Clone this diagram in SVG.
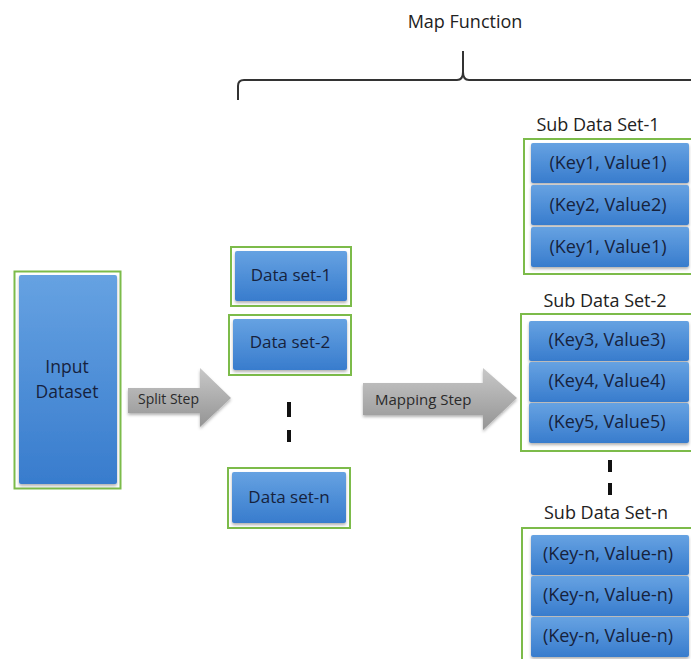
<svg xmlns="http://www.w3.org/2000/svg" width="691" height="659" viewBox="0 0 691 659">
<defs>
<linearGradient id="blue" x1="0" y1="0" x2="0" y2="1">
<stop offset="0" stop-color="#66a2e2"/>
<stop offset="1" stop-color="#387ccd"/>
</linearGradient>
<linearGradient id="gray" x1="0" y1="0" x2="0" y2="1">
<stop offset="0" stop-color="#c8c8c8"/>
<stop offset="1" stop-color="#949494"/>
</linearGradient>
<filter id="sh" x="-10%" y="-10%" width="120%" height="130%">
<feDropShadow dx="0" dy="2" stdDeviation="1.5" flood-color="#000" flood-opacity="0.3"/>
</filter>
</defs>
<style>
.g{fill:#fff;stroke:#7cbb4a;stroke-width:2}
.b{fill:url(#blue);filter:url(#sh)}
.t{font-family:"Open Sans","DejaVu Sans",sans-serif;fill:#16223d;text-anchor:middle;font-size:18px}
.ds{font-size:17px}
.h{font-family:"Open Sans","DejaVu Sans",sans-serif;fill:#222;text-anchor:middle;font-size:18px}
.a{fill:url(#gray);filter:url(#sh)}
.at{font-family:"Open Sans","DejaVu Sans",sans-serif;fill:#2a2a2a;font-size:14px}
.d{fill:#111}
</style>
<rect width="691" height="659" fill="#fff"/>
<g id="brace">
<path d="M238,100 V86 Q238,80 244,80 H457 Q463,80 463,72 V51 M463,72 Q463,80 469,80 H691" fill="none" stroke="#333" stroke-width="2"/>
<text class="h" x="465" y="28">Map Function</text>
</g>
<g id="input">
<rect class="g" x="14.5" y="271.5" width="106" height="217"/>
<rect class="b" x="19" y="275" width="98" height="209" rx="2"/>
<text class="t" x="67" y="373" style="font-size:17.5px">Input</text>
<text class="t" x="67" y="398" style="font-size:17.5px">Dataset</text>
</g>
<g id="ds1">
<rect class="g" x="231" y="247" width="120" height="59"/>
<rect class="b" x="235" y="251" width="112" height="50" rx="2"/>
<text class="t ds" x="291" y="281">Data set-1</text>
</g>
<g id="ds2">
<rect class="g" x="229" y="315" width="122" height="60"/>
<rect class="b" x="233" y="319" width="114" height="51" rx="2"/>
<text class="t ds" x="290" y="348">Data set-2</text>
</g>
<g id="dsn">
<rect class="g" x="228" y="468" width="122" height="60"/>
<rect class="b" x="232" y="472" width="114" height="51" rx="2"/>
<text class="t ds" x="289" y="503">Data set-n</text>
</g>
<g id="sub1">
<text class="h" x="598" y="131">Sub Data Set-1</text>
<rect class="g" x="524" y="139" width="180" height="135"/>
<rect class="b" x="531" y="143" width="158" height="40" rx="2"/>
<rect class="b" x="531" y="185" width="158" height="40" rx="2"/>
<rect class="b" x="531" y="227" width="158" height="40" rx="2"/>
<text class="t" x="608" y="169">(Key1, Value1)</text>
<text class="t" x="608" y="211">(Key2, Value2)</text>
<text class="t" x="608" y="253">(Key1, Value1)</text>
</g>
<g id="sub2">
<text class="h" x="605" y="307">Sub Data Set-2</text>
<rect class="g" x="521" y="314" width="180" height="137"/>
<rect class="b" x="529" y="321" width="160" height="40" rx="2"/>
<rect class="b" x="529" y="362" width="160" height="40" rx="2"/>
<rect class="b" x="529" y="403" width="160" height="40" rx="2"/>
<text class="t" x="607" y="346">(Key3, Value3)</text>
<text class="t" x="607" y="387">(Key4, Value4)</text>
<text class="t" x="607" y="428">(Key5, Value5)</text>
</g>
<g id="subn">
<text class="h" x="606" y="519">Sub Data Set-n</text>
<rect class="g" x="522" y="528" width="180" height="140"/>
<rect class="b" x="531" y="535" width="158" height="40" rx="2"/>
<rect class="b" x="531" y="576" width="158" height="40" rx="2"/>
<rect class="b" x="531" y="617" width="158" height="40" rx="2"/>
<text class="t" x="608" y="560">(Key-n, Value-n)</text>
<text class="t" x="608" y="601">(Key-n, Value-n)</text>
<text class="t" x="608" y="642">(Key-n, Value-n)</text>
</g>
<g id="connectors">
<polygon class="a" points="128,388 200,388 200,368 231,398 200,427 200,413 128,413"/>
<text class="at" x="138" y="404">Split Step</text>
<polygon class="a" points="363,383 483,383 483,368 517,398 483,430 483,415 363,415"/>
<text class="at" x="375" y="405" style="font-size:15px">Mapping Step</text>
<rect class="d" x="287" y="402" width="4" height="15"/>
<rect class="d" x="287" y="430" width="4" height="12"/>
<rect class="d" x="608" y="460" width="4" height="12"/>
<rect class="d" x="608" y="483" width="4" height="12"/>
</g>
</svg>
